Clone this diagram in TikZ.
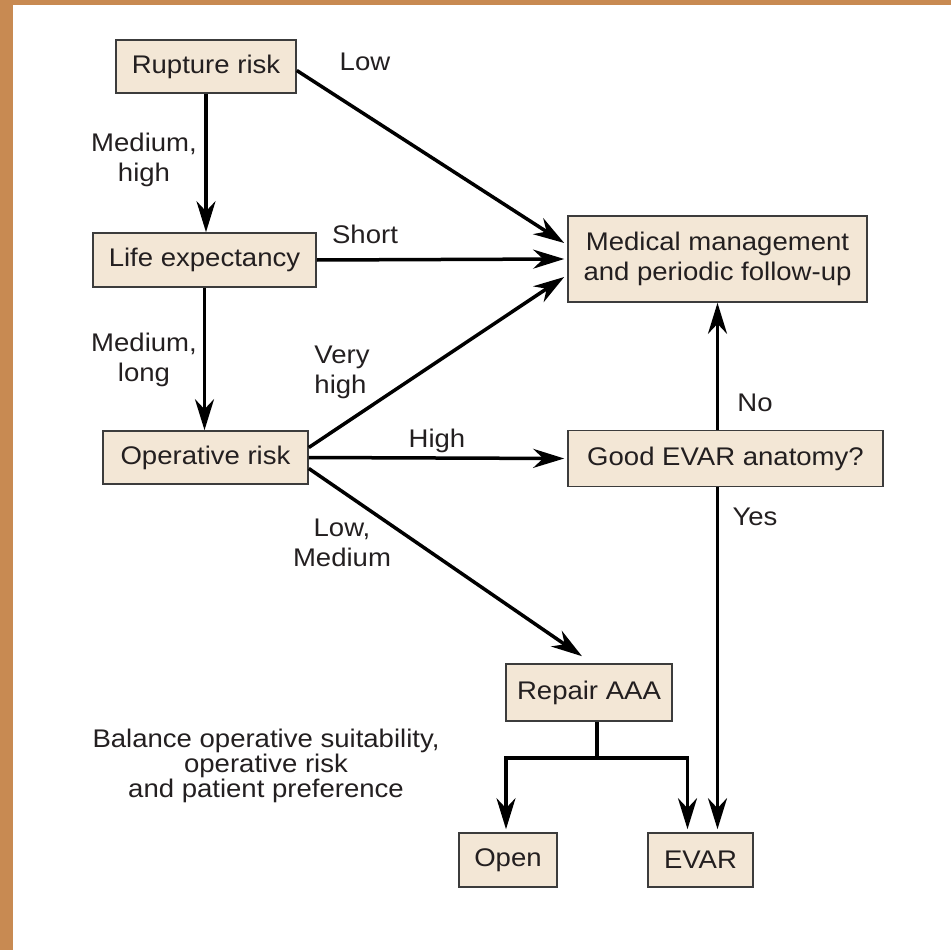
\documentclass[tikz,border=0pt]{standalone}
\usepackage{fontspec}
\setmainfont[FakeStretch=1.08]{Liberation Sans}
\usetikzlibrary{arrows.meta}
\definecolor{framebrown}{RGB}{200,138,82}
\definecolor{boxfill}{RGB}{243,231,214}
\definecolor{boxline}{RGB}{60,60,60}
\definecolor{textcol}{RGB}{35,31,32}
\tikzset{
  box/.style={draw=boxline, fill=boxfill, line width=1.6pt, align=center, inner sep=0pt},
  arrow/.style={line width=3.5pt, -{Stealth[length=31pt,width=19pt,inset=10pt]}},
  lbl/.style={align=center, inner sep=0pt},
}

\begin{document}
\begin{tikzpicture}[x=1pt,y=-1pt,font=\fontsize{25.5}{30}\selectfont,text=textcol]
    \useasboundingbox (0,0) rectangle (951,950);
    \fill[framebrown] (0,0) rectangle (13,950);
    \fill[framebrown] (0,0) rectangle (951,5);

    % boxes
    \node[box,minimum width=180pt,minimum height=53pt] (rupture) at (206,66.5) {Rupture risk};
    \node[box,minimum width=223pt,minimum height=54pt] (life) at (204.5,260) {Life expectancy};
    \node[box,minimum width=205pt,minimum height=53pt] (oprisk) at (205.5,457.5) {Operative risk};
    \node[box,minimum width=299pt,minimum height=86pt] (medical) at (717.5,259) {Medical management\\and periodic follow-up};
    \node[box,minimum width=315pt,minimum height=56pt] (goodevar) at (725.5,458.5) {Good EVAR anatomy?};
    \node[box,minimum width=166pt,minimum height=57pt] (repair) at (589,692.5) {Repair AAA};
    \node[box,minimum width=98pt,minimum height=54pt] (open) at (508,860) {Open};
    \node[box,minimum width=105pt,minimum height=54pt] (evar) at (700.5,860) {EVAR};
    \coordinate (fork) at (597,758);

    % connectors
    \draw[arrow] (rupture.south) -- (rupture.south |- life.north);
    \draw[arrow] ([yshift=-4pt]rupture.east) -- ([xshift=-3pt,yshift=16pt]medical.west);
    \draw[arrow] (life.east) -- ([xshift=-3pt]medical.west);
    \draw[arrow] (life.south) -- (life.south |- oprisk.north);
    \draw[arrow] ([yshift=10pt]oprisk.east) -- ([xshift=-3pt,yshift=-18pt]medical.west);
    \draw[arrow] (oprisk.east) -- ([xshift=-3pt]goodevar.west);
    \draw[arrow] ([yshift=-11pt]oprisk.east) -- ([xshift=-7pt,yshift=7pt]repair.north);
    \draw[arrow] (goodevar.north -| medical.south) -- (medical.south);
    \draw[arrow] (goodevar.south -| medical.south) -- ([yshift=3pt]evar.north -| medical.south);
    \draw[line width=3.5pt] (repair.south -| fork) -- (fork);
    \draw[arrow] (fork) -| ([xshift=-2pt,yshift=3pt]open.north);
    \draw[arrow] (fork) -| ([xshift=-13pt,yshift=3pt]evar.north);

    % labels
    \node[lbl] (lowlbl) at (365,62) {Low};
    \node[lbl] (medhigh) at (144,160) {Medium,\\high};
    \node[lbl] (shortlbl) at (365,234) {Short};
    \node[lbl] (medlong) at (144,360) {Medium,\\long};
    \node[lbl,align=left] (veryhigh) at (342,372) {Very\\high};
    \node[lbl] (highlbl) at (437,441) {High};
    \node[lbl] (lowmed) at (342,543) {Low,\\Medium};
    \node[lbl] (nolbl) at (755,403) {No};
    \node[lbl] (yeslbl) at (755,517) {Yes};
    \node[lbl,font=\fontsize{25.5}{22}\selectfont] (balance) at (266,766) {Balance operative suitability,\\operative risk\\and patient preference};
\end{tikzpicture}
\end{document}
